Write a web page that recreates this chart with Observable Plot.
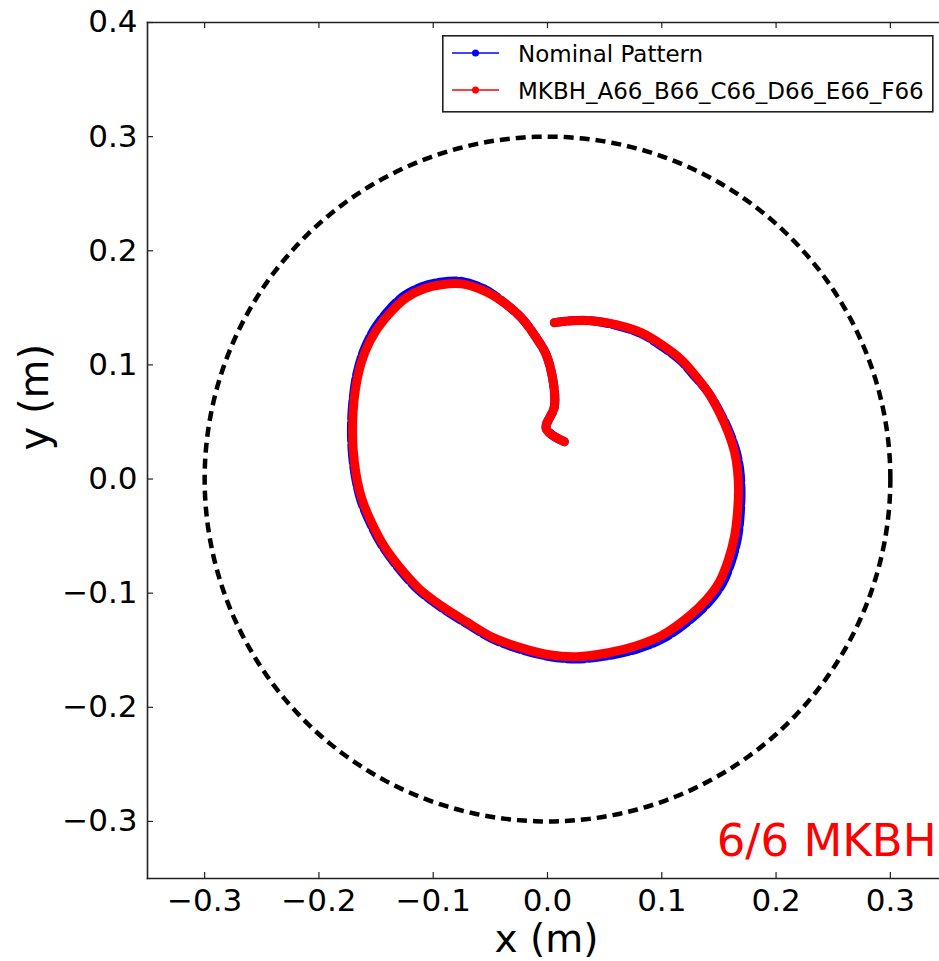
<!DOCTYPE html>
<html>
<head>
<meta charset="utf-8">
<script src="https://cdn.jsdelivr.net/npm/d3@7"></script>
<script src="https://cdn.jsdelivr.net/npm/@observablehq/plot@0.6"></script>
<style>
  html, body { margin: 0; padding: 0; background: white; }
  #wrap { position: relative; width: 939px; height: 961px; overflow: hidden; font-family: "DejaVu Sans", sans-serif; }
  #legend { position: absolute; left: 442px; top: 35px; }
</style>
</head>
<body>
<div id="wrap">
  <div id="chart"></div>
  <svg id="legend" width="492" height="78"></svg>
</div>
<script>
// Measured spot trajectory (m), traced from the inner hook outwards
const measX = [0.0147, -0.0011, 0.0060, 0.0051, -0.0011, -0.0098, -0.0229, -0.0378, -0.0554, -0.0755,
  -0.0930, -0.1080, -0.1236, -0.1368, -0.1500, -0.1596, -0.1657, -0.1692, -0.1705, -0.1700,
  -0.1674, -0.1622, -0.1543, -0.1438, -0.1298, -0.1123, -0.0930, -0.0711, -0.0475, -0.0229,
  0.0016, 0.0252, 0.0532, 0.0778, 0.0996, 0.1233, 0.1390, 0.1505, 0.1583, 0.1636,
  0.1662, 0.1671, 0.1662, 0.1636, 0.1583, 0.1505, 0.1408, 0.1303, 0.1171, 0.1013,
  0.0821, 0.0602, 0.0383, 0.0208, 0.0060];
const measY = [0.0327, 0.0441, 0.0633, 0.0844, 0.1089, 0.1238, 0.1413, 0.1544, 0.1649, 0.1710,
  0.1702, 0.1667, 0.1588, 0.1466, 0.1300, 0.1115, 0.0914, 0.0695, 0.0476, 0.0257,
  0.0038, -0.0181, -0.0374, -0.0575, -0.0768, -0.0961, -0.1110, -0.1250, -0.1390, -0.1479,
  -0.1540, -0.1557, -0.1522, -0.1460, -0.1372, -0.1206, -0.1057, -0.0899, -0.0706, -0.0505,
  -0.0295, -0.0094, 0.0081, 0.0239, 0.0405, 0.0581, 0.0756, 0.0896, 0.1045, 0.1167,
  0.1282, 0.1352, 0.1387, 0.1387, 0.1370];

// Nominal pattern (m)
const nomX = [0.0147, -0.0011, 0.0060, 0.0051, -0.0011, -0.0098, -0.0229, -0.0378, -0.0560, -0.0765,
  -0.0942, -0.1094, -0.1251, -0.1385, -0.1515, -0.1608, -0.1668, -0.1701, -0.1715, -0.1710,
  -0.1684, -0.1634, -0.1555, -0.1449, -0.1308, -0.1132, -0.0938, -0.0717, -0.0479, -0.0231,
  0.0016, 0.0255, 0.0540, 0.0792, 0.1014, 0.1254, 0.1414, 0.1531, 0.1610, 0.1663,
  0.1687, 0.1693, 0.1682, 0.1651, 0.1593, 0.1510, 0.1408, 0.1296, 0.1164, 0.1006,
  0.0817, 0.0600, 0.0383, 0.0208, 0.0060];
const nomY = [0.0327, 0.0441, 0.0633, 0.0844, 0.1089, 0.1238, 0.1413, 0.1544, 0.1668, 0.1733,
  0.1724, 0.1688, 0.1608, 0.1484, 0.1313, 0.1124, 0.0921, 0.0699, 0.0479, 0.0259,
  0.0038, -0.0182, -0.0377, -0.0579, -0.0774, -0.0969, -0.1119, -0.1261, -0.1401, -0.1494,
  -0.1555, -0.1577, -0.1546, -0.1486, -0.1396, -0.1227, -0.1075, -0.0914, -0.0718, -0.0513,
  -0.0299, -0.0095, 0.0082, 0.0241, 0.0408, 0.0583, 0.0756, 0.0891, 0.1038, 0.1159,
  0.1275, 0.1347, 0.1387, 0.1387, 0.1370];

// Outer boundary radius (m)
const boundaryRadius = 0.3;

// Axis ticks
const xTicks = [-0.3, -0.2, -0.1, 0.0, 0.1, 0.2, 0.3];
const yTicks = [-0.3, -0.2, -0.1, 0.0, 0.1, 0.2, 0.3, 0.4];

// Legend entries
const seriesNames = ["Nominal Pattern", "MKBH_A66_B66_C66_D66_E66_F66"];
const seriesColors = ["blue", "red"];
const annotation = "6/6 MKBH";

const measured = measX.map((x, i) => ({x, y: measY[i]}));
const nominal = nomX.map((x, i) => ({x, y: nomY[i]}));
const boundary = d3.range(0, 361, 1).map(a => {
  const t = a * Math.PI / 180;
  return {x: boundaryRadius * Math.cos(t), y: boundaryRadius * Math.sin(t)};
});

const W = 939, H = 961, mL = 147, mR = 0, mT = 22, mB = 83;
const innerW = W - mL - mR, innerH = H - mT - mB;
const tick = 6;

const chart = Plot.plot({
  width: W, height: H,
  marginLeft: mL, marginRight: mR, marginTop: mT, marginBottom: mB,
  x: {domain: [-0.35, 0.343]},
  y: {domain: [-0.35, 0.4]},
  style: {fontFamily: "DejaVu Sans", fontSize: "31px", color: "black", background: "white"},
  marks: [
    Plot.line(boundary, {x: "x", y: "y", stroke: "black", strokeWidth: 4.5, strokeDasharray: "10,6", strokeLinecap: "butt"}),
    Plot.line(nominal, {x: "x", y: "y", stroke: seriesColors[0], strokeWidth: 9, curve: "catmull-rom", strokeLinecap: "round", strokeLinejoin: "round", strokeDasharray: "18,4"}),
    Plot.line(measured, {x: "x", y: "y", stroke: seriesColors[1], strokeWidth: 9, curve: "catmull-rom", strokeLinecap: "round", strokeLinejoin: "round"}),
    Plot.frame({anchor: "left", stroke: "#222", strokeWidth: 1.6}),
    Plot.frame({anchor: "bottom", stroke: "#222", strokeWidth: 1.6}),
    Plot.frame({anchor: "top", stroke: "#222", strokeWidth: 1.6}),
    // inward tick marks
    Plot.tickX(xTicks, {x: d => d, insetTop: innerH - tick, stroke: "#222", strokeWidth: 1.2}),
    Plot.tickX(xTicks, {x: d => d, insetBottom: innerH - tick, stroke: "#222", strokeWidth: 1.2}),
    Plot.tickY(yTicks, {y: d => d, insetRight: innerW - tick, stroke: "#222", strokeWidth: 1.2}),
    Plot.axisX({ticks: xTicks, tickSize: 0, tickPadding: 10, tickFormat: d3.format(".1f"), label: null, fontSize: 31}),
    Plot.axisY({ticks: yTicks, tickSize: 0, tickPadding: 10, tickFormat: d3.format(".1f"), label: null, fontSize: 31}),
    Plot.text(["x (m)"], {text: d => d, frameAnchor: "bottom", lineAnchor: "middle", dx: 3, dy: 61, fontSize: 39}),
    Plot.text(["y (m)"], {text: d => d, frameAnchor: "left", lineAnchor: "middle", rotate: -90, dx: -112, fontSize: 40}),
    Plot.text([annotation], {text: d => d, frameAnchor: "bottom-right", lineAnchor: "middle", textAnchor: "end", dx: -3, dy: -37, fontSize: 45, fill: "red"})
  ]
});
document.getElementById("chart").appendChild(chart);

// Legend box
const leg = d3.select("#legend");
leg.append("rect").attr("x", 0.8).attr("y", 0.8).attr("width", 490).attr("height", 76)
  .attr("fill", "white").attr("stroke", "#222").attr("stroke-width", 1.6);
seriesNames.forEach((name, i) => {
  const cy = 18 + i * 37;
  leg.append("line").attr("x1", 10).attr("x2", 57).attr("y1", cy).attr("y2", cy)
    .attr("stroke", seriesColors[i]).attr("stroke-width", 1.6);
  leg.append("circle").attr("cx", 33.5).attr("cy", cy).attr("r", 3.5).attr("fill", seriesColors[i]);
  leg.append("text").attr("x", 76).attr("y", cy + 8.5)
    .attr("font-family", "DejaVu Sans").attr("font-size", 23).attr("fill", "black").text(name);
});
</script>
</body>
</html>
